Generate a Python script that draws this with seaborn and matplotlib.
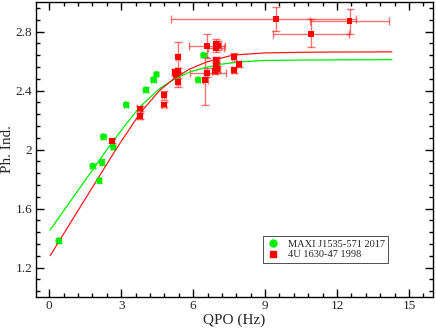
import matplotlib
matplotlib.use("Agg")
import matplotlib.pyplot as plt
import seaborn as sns
import pandas as pd
from matplotlib.ticker import MultipleLocator, FixedLocator, FixedFormatter
from matplotlib.lines import Line2D

# ---------------- data ----------------
maxi_qpo = [0.39, 1.81, 2.19, 2.09, 2.25, 2.67, 3.20, 4.03, 4.34, 4.47, 6.20, 6.43]
maxi_ind = [1.383, 1.890, 1.913, 1.790, 2.088, 2.016, 2.305, 2.406, 2.474, 2.510, 2.474, 2.640]
maxi_xerr = [0.10, 0.10, 0.08, 0.06, 0.10, 0.08, 0.08, 0.10, 0.10, 0.08, 0.10, 0.10]
maxi_yerr = [0.015, 0.015, 0.02, 0.02, 0.015, 0.015, 0.015, 0.015, 0.015, 0.015, 0.015, 0.015]

u_qpo = [2.63, 3.78, 3.78, 4.77, 4.77, 5.37, 5.25, 5.37, 5.30, 5.37,
         6.57, 6.57, 6.51, 6.96, 7.05, 6.96, 6.96, 6.96, 7.00, 6.90,
         7.72, 7.93, 7.72, 9.47, 10.90, 12.52]
u_ind = [2.059, 2.278, 2.228, 2.368, 2.305, 2.626, 2.525, 2.535, 2.510, 2.457,
         2.700, 2.520, 2.474, 2.717, 2.705, 2.690, 2.604, 2.570, 2.545, 2.530,
         2.626, 2.580, 2.537, 2.886, 2.784, 2.870]
u_xerr_lo = [0.08, 0.10, 0.10, 0.08, 0.08, 0.10, 0.15, 0.10, 0.10, 0.10,
             0.75, 0.72, 0.10, 0.10, 0.10, 0.34, 0.10, 0.10, 0.10, 0.10,
             0.08, 0.08, 0.08, 4.41, 1.59, 1.63]
u_xerr_hi = [0.08, 0.10, 0.10, 0.08, 0.08, 0.10, 0.15, 0.10, 0.10, 0.10,
             0.75, 0.78, 0.10, 0.10, 0.10, 0.34, 0.10, 0.10, 0.10, 0.10,
             0.08, 0.08, 0.08, 3.30, 1.59, 1.63]
u_yerr_lo = [0.015, 0.02, 0.02, 0.03, 0.02, 0.10, 0.02, 0.02, 0.02, 0.03,
             0.08, 0.03, 0.17, 0.03, 0.03, 0.03, 0.02, 0.02, 0.02, 0.02,
             0.03, 0.02, 0.02, 0.08, 0.09, 0.085]
u_yerr_hi = [0.015, 0.02, 0.02, 0.03, 0.02, 0.10, 0.02, 0.02, 0.02, 0.03,
             0.08, 0.03, 0.15, 0.03, 0.03, 0.03, 0.02, 0.02, 0.02, 0.02,
             0.03, 0.02, 0.02, 0.08, 0.10, 0.085]

# fitted curves
fit_maxi_x = [0.04, 1.2, 2.41, 3.1, 3.78, 4.6, 5.2, 5.85, 6.5, 7.1, 8.0, 9.03, 11.0, 14.29]
fit_maxi_y = [1.455, 1.722, 2.000, 2.150, 2.289, 2.413, 2.475, 2.525, 2.555, 2.577, 2.595, 2.604, 2.607, 2.609]
fit_u_x = [0.04, 1.4, 2.78, 3.78, 4.6, 5.2, 5.85, 6.54, 7.65, 9.03, 11.0, 14.29]
fit_u_y = [1.280, 1.638, 2.000, 2.245, 2.400, 2.480, 2.545, 2.592, 2.640, 2.655, 2.660, 2.662]

x_ticks = [0, 3, 6, 9, 12, 15]
x_ticklabels = ["0", "3", "6", "9", "12", "15"]
y_ticks = [1.2, 1.6, 2.0, 2.4, 2.8]
y_ticklabels = ["1.2", "1.6", "2", "2.4", "2.8"]
legend_labels = ["MAXI J1535-571 2017", "4U 1630-47 1998"]

GREEN = "#00ee00"
RED = "#ff0000"

# ---------------- plot ----------------
sns.set_theme(style="ticks")
plt.rcParams["font.family"] = ["Liberation Serif", "DejaVu Serif"]

fig = plt.figure(figsize=(4.36, 3.30), dpi=100)
ax = fig.add_axes([36 / 436, 33 / 330, 397 / 436, 295 / 330])

df_maxi = pd.DataFrame({"qpo": maxi_qpo, "ind": maxi_ind})
df_u = pd.DataFrame({"qpo": u_qpo, "ind": u_ind})
df_fm = pd.DataFrame({"qpo": fit_maxi_x, "ind": fit_maxi_y})
df_fu = pd.DataFrame({"qpo": fit_u_x, "ind": fit_u_y})

# error bars
ax.errorbar(u_qpo, u_ind, xerr=[u_xerr_lo, u_xerr_hi], yerr=[u_yerr_lo, u_yerr_hi],
            fmt="none", ecolor=RED, alpha=0.55, elinewidth=1.0, capsize=3, capthick=1.0, zorder=2)
ax.errorbar(maxi_qpo, maxi_ind, xerr=maxi_xerr, yerr=maxi_yerr,
            fmt="none", ecolor=GREEN, alpha=0.8, elinewidth=1.0, capsize=2, capthick=1.0, zorder=2)

# fit lines
sns.lineplot(data=df_fm, x="qpo", y="ind", ax=ax, color=GREEN, lw=0.9, sort=False, zorder=3)
sns.lineplot(data=df_fu, x="qpo", y="ind", ax=ax, color=RED, lw=0.9, sort=False, zorder=3, alpha=0.9)

# markers
sns.scatterplot(data=df_maxi, x="qpo", y="ind", ax=ax, marker="o", s=20, color=GREEN,
                edgecolor="none", zorder=4)
sns.scatterplot(data=df_u, x="qpo", y="ind", ax=ax, marker="s", s=18, color=RED,
                edgecolor="none", zorder=4)

ax.set_xlim(-0.55, 16.0)
ax.set_ylim(1.0, 3.0)
ax.xaxis.set_major_locator(FixedLocator(x_ticks))
ax.xaxis.set_major_formatter(FixedFormatter(x_ticklabels))
ax.xaxis.set_minor_locator(MultipleLocator(0.6))
ax.yaxis.set_major_locator(FixedLocator(y_ticks))
ax.yaxis.set_major_formatter(FixedFormatter(y_ticklabels))
ax.yaxis.set_minor_locator(MultipleLocator(0.08))
ax.tick_params(which="both", direction="in", top=True, right=True, color="black",
               labelsize=9.5, width=1.0)
ax.tick_params(which="major", length=6, pad=2.5)
ax.tick_params(which="minor", length=3)
for sp in ax.spines.values():
    sp.set_linewidth(1.0)
    sp.set_color("black")

ax.set_xlabel("QPO (Hz)", fontsize=11, labelpad=0.5)
ax.set_ylabel("Ph. Ind.", fontsize=11, labelpad=1)

handles = [Line2D([], [], marker="o", ls="none", color=GREEN, markersize=5),
           Line2D([], [], marker="s", ls="none", color=RED, markersize=4.5)]
leg = ax.legend(handles, legend_labels, loc="lower left", bbox_to_anchor=(0.572, 0.115),
                fontsize=7.5, frameon=True, fancybox=False, edgecolor="black",
                handlelength=1.2, handletextpad=0.8, borderpad=0.35, labelspacing=0.15,
                borderaxespad=0)
leg.get_frame().set_linewidth(0.6)

fig.savefig("out.png", dpi=100)
